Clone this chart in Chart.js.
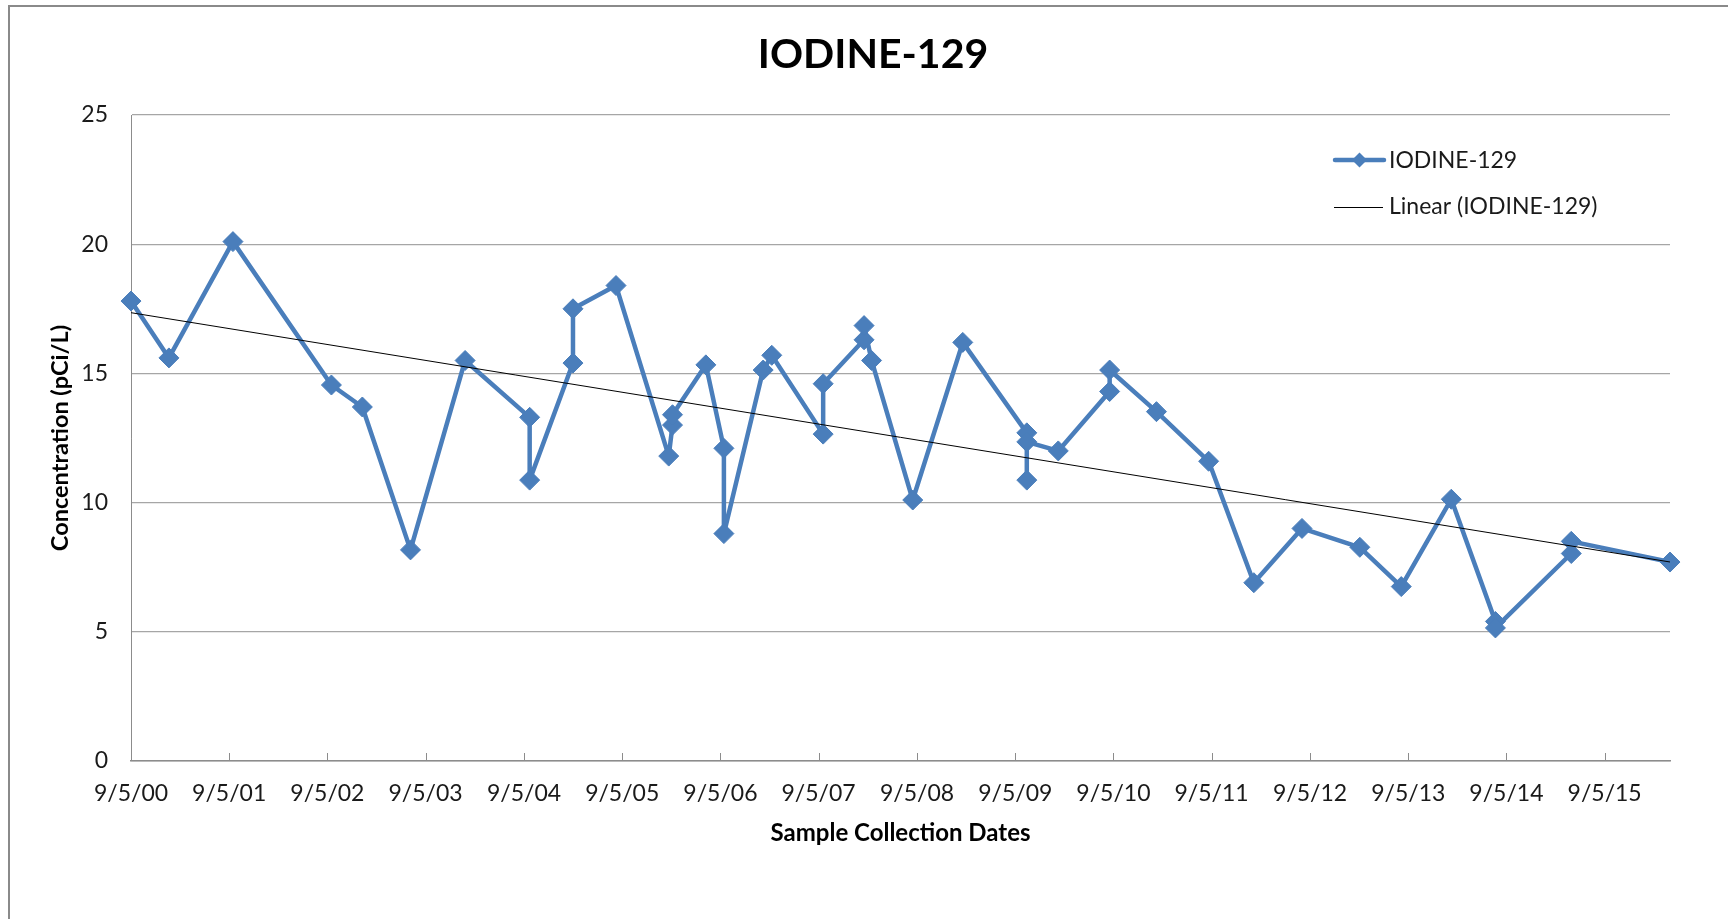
<!DOCTYPE html>
<html>
<head>
<meta charset="utf-8">
<title>IODINE-129</title>
<script src="https://cdn.jsdelivr.net/npm/chart.js@4.4.0/dist/chart.umd.min.js"></script>
<style>
  html, body { margin: 0; padding: 0; background: #fff; overflow: hidden; }
  #frame { position: absolute; left: 8px; top: 5px; width: 1780px; height: 980px; border: 2px solid #8a8a8a; }
  #wrap { position: absolute; left: 0; top: 0; width: 1728px; height: 919px; }
</style>
</head>
<body>
<div id="frame"></div>
<div id="wrap"><canvas id="myChart"></canvas></div>
<script>
// sample dates and results (pCi/L)
const sampleDates = [
  '2000-09-05', '2001-01-24', '2001-09-19', '2002-09-20', '2003-01-13', '2003-07-11',
  '2004-01-30', '2004-09-26', '2004-09-26', '2005-03-06', '2005-03-06', '2005-08-13',
  '2006-02-25', '2006-03-11', '2006-03-11', '2006-07-13', '2006-09-18', '2006-09-18',
  '2007-02-11', '2007-03-15', '2007-09-22', '2007-09-22', '2008-02-21', '2008-02-21',
  '2008-03-20', '2008-08-20', '2009-02-22', '2009-10-18', '2009-10-18', '2009-10-18',
  '2010-02-12', '2010-08-22', '2010-08-22', '2011-02-12', '2011-08-25', '2012-02-09',
  '2012-08-06', '2013-03-09', '2013-08-10', '2014-02-12', '2014-07-26', '2014-07-26',
  '2015-05-04', '2015-05-04', '2016-05-05'
];
const iodineValues = [
  17.8, 15.6, 20.1, 14.55, 13.7, 8.17,
  15.5, 13.3, 10.87, 15.4, 17.5, 18.4,
  11.8, 13.0, 13.4, 15.33, 12.1, 8.8,
  15.13, 15.7, 12.65, 14.6, 16.3, 16.85,
  15.5, 10.1, 16.2, 12.7, 10.87, 12.35,
  12.0, 14.3, 15.13, 13.52, 11.6, 6.9,
  9.0, 8.27, 6.75, 10.13, 5.4, 5.15,
  8.03, 8.5, 7.7
];
const tickLabels = [
  '9/5/00', '9/5/01', '9/5/02', '9/5/03', '9/5/04', '9/5/05', '9/5/06', '9/5/07',
  '9/5/08', '9/5/09', '9/5/10', '9/5/11', '9/5/12', '9/5/13', '9/5/14', '9/5/15'
];
const yTicks = [0, 5, 10, 15, 20, 25];

const blue = '#4a7ebb';
const DAY = 86400000;
const origin = Date.UTC(2000, 8, 5);

// days since 9/5/2000
function dayNum(iso) {
  const [y, m, d] = iso.split('-').map(Number);
  return (Date.UTC(y, m - 1, d) - origin) / DAY;
}
function tickDay(label) {
  const [m, d, yy] = label.split('/').map(Number);
  return (Date.UTC(2000 + yy, m - 1, d) - origin) / DAY;
}

const points = sampleDates.map((d, i) => ({ x: dayNum(d), y: iodineValues[i] }));
const tickValues = tickLabels.map(tickDay);
const xMin = tickValues[0];
const xMax = Math.max(...points.map(p => p.x));

// least squares trend over the samples
const n = points.length;
const mx = points.reduce((s, p) => s + p.x, 0) / n;
const my = points.reduce((s, p) => s + p.y, 0) / n;
let sxy = 0, sxx = 0;
points.forEach(p => { sxy += (p.x - mx) * (p.y - my); sxx += (p.x - mx) ** 2; });
const slope = sxy / sxx;
const intercept = my - slope * mx;
const trend = [xMin, xMax].map(x => ({ x: x, y: intercept + slope * x }));

Chart.defaults.font.family = 'Lato, "Open Sans", sans-serif';
Chart.defaults.color = '#1a1a1a';

// inside tick marks on the date axis, chart title and legend
const extras = {
  id: 'extras',
  beforeDatasetsDraw(chart) {
    const ctx = chart.ctx;
    const xs = chart.scales.x;
    const bottom = chart.chartArea.bottom;
    ctx.save();
    ctx.strokeStyle = '#8c8c8c';
    ctx.lineWidth = 1;
    xs.ticks.forEach(t => {
      const px = Math.round(xs.getPixelForValue(t.value)) + 0.5;
      ctx.beginPath();
      ctx.moveTo(px, bottom);
      ctx.lineTo(px, bottom - 8);
      ctx.stroke();
    });
    ctx.restore();
  },
  afterDraw(chart) {
    const ctx = chart.ctx;
    ctx.save();
    ctx.fillStyle = '#000';
    ctx.textAlign = 'center';
    ctx.textBaseline = 'middle';
    ctx.font = 'bold 41px Lato';
    ctx.fillText('IODINE-129', 873, 55);

    // legend
    ctx.textAlign = 'left';
    ctx.font = '23px Lato';
    ctx.strokeStyle = blue;
    ctx.lineWidth = 4.5;
    ctx.lineCap = 'round';
    ctx.beginPath();
    ctx.moveTo(1335, 160);
    ctx.lineTo(1384, 160);
    ctx.stroke();
    ctx.fillStyle = blue;
    ctx.beginPath();
    ctx.moveTo(1359.5, 152.5);
    ctx.lineTo(1367, 160);
    ctx.lineTo(1359.5, 167.5);
    ctx.lineTo(1352, 160);
    ctx.closePath();
    ctx.fill();
    ctx.fillStyle = '#1a1a1a';
    ctx.fillText('IODINE-129', 1389, 161);

    ctx.strokeStyle = '#000';
    ctx.lineWidth = 1;
    ctx.lineCap = 'butt';
    ctx.beginPath();
    ctx.moveTo(1334, 207.5);
    ctx.lineTo(1383, 207.5);
    ctx.stroke();
    ctx.fillText('Linear (IODINE-129)', 1389, 207);
    ctx.restore();
  }
};

const ctx = document.getElementById('myChart');

new Chart(ctx, {
  type: 'line',
  data: {
    datasets: [{
      label: 'Linear (IODINE-129)',
      data: trend,
      borderColor: '#000',
      borderWidth: 1,
      pointRadius: 0,
      fill: false,
      clip: false,
      order: 0
    }, {
      label: 'IODINE-129',
      data: points,
      borderColor: blue,
      backgroundColor: blue,
      borderWidth: 4.5,
      borderJoinStyle: 'round',
      borderCapStyle: 'round',
      pointStyle: 'rectRot',
      pointRadius: 10,
      pointBorderWidth: 1,
      pointBorderColor: blue,
      pointBackgroundColor: blue,
      tension: 0,
      fill: false,
      clip: false,
      order: 1
    }]
  },
  options: {
    responsive: true,
    maintainAspectRatio: false,
    animation: false,
    layout: { padding: { top: 115, right: 58, bottom: 0, left: 0 } },
    plugins: {
      legend: { display: false },
      tooltip: { enabled: false }
    },
    scales: {
      x: {
        type: 'linear',
        min: xMin,
        max: xMax,
        afterBuildTicks: (axis) => { axis.ticks = tickValues.map(v => ({ value: v })); },
        afterFit: (axis) => { axis.height = 158; },
        ticks: {
          autoSkip: false,
          maxRotation: 0,
          padding: 19,
          font: { size: 23 },
          callback: (value, index) => tickLabels[index]
        },
        grid: { display: false, drawTicks: false },
        border: { display: true, color: '#8c8c8c', width: 1.5 },
        title: {
          display: true,
          text: 'Sample Collection Dates',
          font: { size: 24, weight: 'bold' },
          color: '#000',
          padding: { top: 0, bottom: 71 }
        }
      },
      y: {
        min: 0,
        max: 25,
        afterBuildTicks: (axis) => { axis.ticks = yTicks.map(v => ({ value: v })); },
        afterFit: (axis) => { axis.width = 131; },
        ticks: { padding: 23, font: { size: 23 } },
        grid: { color: '#a6a6a6', lineWidth: 1.2, drawTicks: false },
        border: { display: true, color: '#8c8c8c', width: 1 },
        title: {
          display: true,
          text: 'Concentration (pCi/L)',
          font: { size: 23.5, weight: 'bold' },
          color: '#000',
          padding: { top: 46, bottom: 0 }
        }
      }
    }
  },
  plugins: [extras]
});
</script>
</body>
</html>
